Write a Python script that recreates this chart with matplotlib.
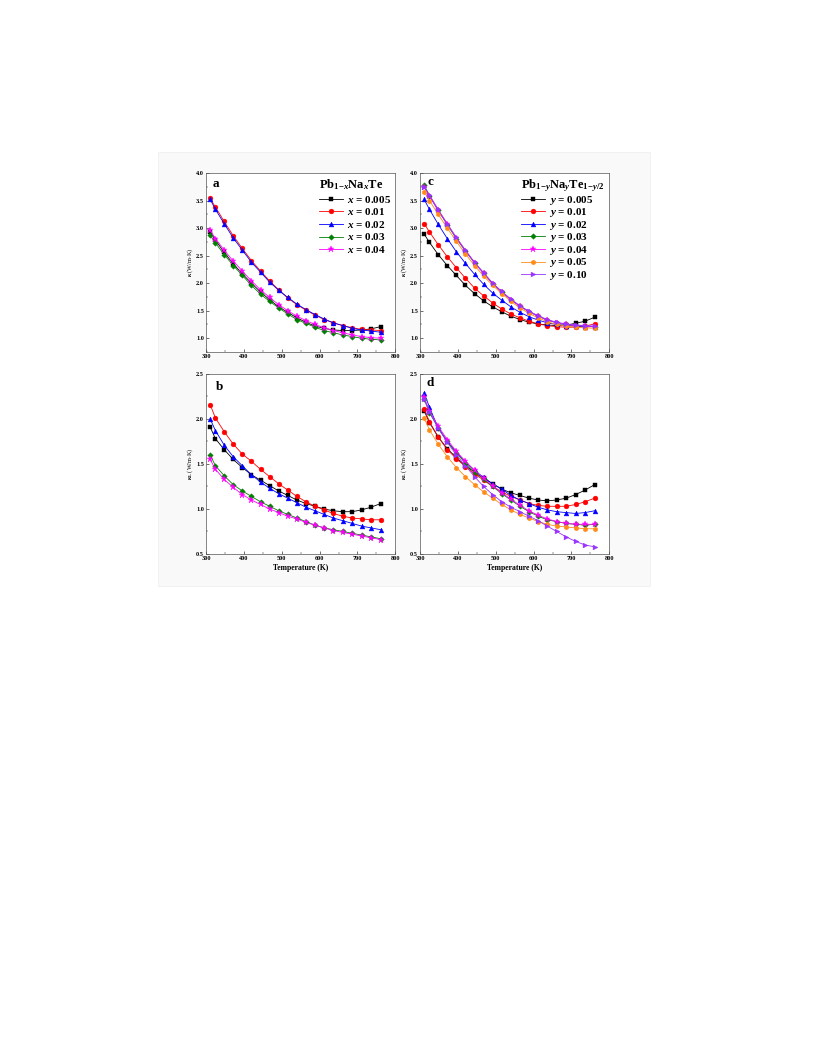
import matplotlib
matplotlib.use("Agg")
import matplotlib.pyplot as plt
from matplotlib.patches import Rectangle
from matplotlib.ticker import MultipleLocator

plt.rcParams['font.family'] = ['Liberation Serif', 'DejaVu Serif']
plt.rcParams['mathtext.fontset'] = 'custom'
plt.rcParams['mathtext.rm'] = 'Liberation Serif:bold'
plt.rcParams['mathtext.it'] = 'Liberation Serif:italic:bold'
plt.rcParams['mathtext.bf'] = 'Liberation Serif:bold'

T = [311, 325, 348, 372, 396, 420, 444, 468, 492, 516, 540, 564, 588, 612, 636, 661, 686, 711, 736, 761]

# Panel a: total thermal conductivity, Pb1-xNaxTe
x_labels = ["0.005", "0.01", "0.02", "0.03", "0.04"]
a_x0005 = [2.93, 2.78, 2.56, 2.35, 2.17, 2.00, 1.84, 1.70, 1.57, 1.47, 1.37, 1.29, 1.22, 1.18, 1.15, 1.14, 1.14, 1.15, 1.17, 1.21]
a_x001 = [3.54, 3.38, 3.12, 2.86, 2.63, 2.41, 2.22, 2.04, 1.88, 1.73, 1.61, 1.51, 1.42, 1.34, 1.28, 1.23, 1.19, 1.16, 1.15, 1.14]
a_x002 = [3.52, 3.34, 3.08, 2.82, 2.60, 2.38, 2.20, 2.02, 1.87, 1.74, 1.62, 1.52, 1.43, 1.35, 1.28, 1.23, 1.18, 1.15, 1.13, 1.11]
a_x003 = [2.87, 2.73, 2.52, 2.32, 2.14, 1.96, 1.80, 1.67, 1.55, 1.44, 1.34, 1.27, 1.20, 1.14, 1.10, 1.06, 1.03, 1.00, 0.98, 0.97]
a_x004 = [2.96, 2.81, 2.60, 2.40, 2.22, 2.04, 1.88, 1.74, 1.61, 1.50, 1.40, 1.32, 1.25, 1.19, 1.14, 1.10, 1.06, 1.03, 1.01, 1.00]

# Panel b: lattice thermal conductivity, Pb1-xNaxTe
b_x0005 = [1.91, 1.78, 1.66, 1.55, 1.46, 1.38, 1.32, 1.26, 1.20, 1.15, 1.10, 1.06, 1.03, 1.00, 0.98, 0.97, 0.97, 0.99, 1.02, 1.06]
b_x001 = [2.16, 2.01, 1.86, 1.72, 1.61, 1.53, 1.44, 1.36, 1.28, 1.21, 1.14, 1.08, 1.03, 0.99, 0.95, 0.92, 0.90, 0.89, 0.88, 0.88]
b_x002 = [2.00, 1.87, 1.71, 1.58, 1.48, 1.38, 1.30, 1.23, 1.17, 1.12, 1.07, 1.02, 0.98, 0.94, 0.90, 0.87, 0.84, 0.81, 0.79, 0.77]
b_x003 = [1.60, 1.48, 1.37, 1.27, 1.20, 1.14, 1.08, 1.03, 0.98, 0.94, 0.90, 0.86, 0.82, 0.79, 0.77, 0.75, 0.73, 0.71, 0.69, 0.67]
b_x004 = [1.55, 1.44, 1.33, 1.24, 1.16, 1.10, 1.05, 1.00, 0.96, 0.92, 0.89, 0.85, 0.82, 0.79, 0.76, 0.74, 0.72, 0.70, 0.68, 0.66]

# Panel c: total thermal conductivity, Pb1-yNayTe1-y/2
y_labels = ["0.005", "0.01", "0.02", "0.03", "0.04", "0.05", "0.10"]
c_y0005 = [2.89, 2.74, 2.52, 2.32, 2.14, 1.96, 1.81, 1.68, 1.57, 1.48, 1.40, 1.34, 1.29, 1.26, 1.24, 1.23, 1.24, 1.27, 1.31, 1.38]
c_y001 = [3.08, 2.93, 2.70, 2.48, 2.28, 2.09, 1.91, 1.77, 1.64, 1.53, 1.44, 1.37, 1.31, 1.26, 1.23, 1.21, 1.20, 1.20, 1.22, 1.26]
c_y002 = [3.52, 3.34, 3.07, 2.81, 2.57, 2.36, 2.16, 1.98, 1.82, 1.69, 1.57, 1.47, 1.39, 1.33, 1.28, 1.25, 1.23, 1.22, 1.21, 1.21]
c_y003 = [3.78, 3.59, 3.32, 3.06, 2.81, 2.58, 2.37, 2.18, 1.99, 1.84, 1.70, 1.58, 1.48, 1.40, 1.33, 1.28, 1.25, 1.23, 1.22, 1.21]
c_y004 = [3.74, 3.58, 3.32, 3.07, 2.82, 2.59, 2.37, 2.18, 1.99, 1.84, 1.70, 1.58, 1.48, 1.40, 1.33, 1.28, 1.25, 1.23, 1.22, 1.21]
c_y005 = [3.66, 3.50, 3.25, 3.00, 2.76, 2.53, 2.32, 2.13, 1.96, 1.81, 1.67, 1.55, 1.45, 1.37, 1.30, 1.25, 1.22, 1.20, 1.19, 1.18]
c_y010 = [3.75, 3.60, 3.34, 3.08, 2.83, 2.60, 2.38, 2.19, 2.00, 1.85, 1.71, 1.59, 1.49, 1.41, 1.34, 1.29, 1.26, 1.24, 1.23, 1.22]

# Panel d: lattice thermal conductivity, Pb1-yNayTe1-y/2
d_y0005 = [2.09, 1.96, 1.80, 1.67, 1.57, 1.48, 1.41, 1.34, 1.28, 1.22, 1.18, 1.15, 1.12, 1.10, 1.09, 1.10, 1.12, 1.16, 1.21, 1.27]
d_y001 = [2.11, 1.97, 1.80, 1.66, 1.56, 1.47, 1.39, 1.32, 1.25, 1.19, 1.14, 1.10, 1.06, 1.04, 1.03, 1.03, 1.03, 1.05, 1.08, 1.12]
d_y002 = [2.29, 2.13, 1.90, 1.75, 1.63, 1.52, 1.43, 1.35, 1.28, 1.22, 1.15, 1.10, 1.06, 1.02, 0.99, 0.97, 0.96, 0.95, 0.96, 0.98]
d_y003 = [2.22, 2.07, 1.90, 1.75, 1.62, 1.51, 1.41, 1.33, 1.25, 1.17, 1.10, 1.03, 0.97, 0.92, 0.88, 0.86, 0.84, 0.83, 0.82, 0.83]
d_y004 = [2.24, 2.09, 1.92, 1.77, 1.64, 1.53, 1.43, 1.34, 1.26, 1.18, 1.11, 1.04, 0.98, 0.93, 0.89, 0.86, 0.84, 0.83, 0.83, 0.83]
d_y005 = [2.01, 1.88, 1.72, 1.58, 1.46, 1.36, 1.27, 1.19, 1.12, 1.05, 0.99, 0.94, 0.90, 0.86, 0.83, 0.81, 0.80, 0.79, 0.78, 0.78]
d_y010 = [2.22, 2.08, 1.90, 1.74, 1.60, 1.48, 1.36, 1.25, 1.16, 1.08, 1.02, 0.97, 0.92, 0.87, 0.81, 0.75, 0.69, 0.64, 0.60, 0.58]

styles = [
    ('black', 's'),
    ('#ff0000', 'o'),
    ('#0000ff', '^'),
    ('#008000', 'D'),
    ('#ff00ff', '*'),
    ('#ff8c1a', 'h'),
    ('#9933ff', '>'),
]

fig = plt.figure(figsize=(8.16, 10.56), dpi=100)
bg = Rectangle((158 / 816, 1 - 586 / 1056), 492 / 816, 434 / 1056,
               transform=fig.transFigure, facecolor='#f9f9f9',
               edgecolor='#eeeeee', linewidth=0.5, zorder=-10)
fig.patches.append(bg)

W = 0.232
H = 0.1695
pos = {
    'a': [206 / 816, 1 - 352 / 1056, W, H],
    'c': [420 / 816, 1 - 352 / 1056, W, H],
    'b': [206 / 816, 1 - 554 / 1056, W, H + 0.001],
    'd': [420 / 816, 1 - 554 / 1056, W, H + 0.001],
}


def plot_panel(ax, series, labels, var, ylim, ylabel, letter, letter_xy,
               legend_title=None, legend_spacing=0.1, xlabel=False):
    for i, (vals, lab) in enumerate(zip(series, labels)):
        c, m = styles[i]
        ms = 3.5
        if m == '*':
            ms = 4.8
        if m == 'D':
            ms = 2.8
        ax.plot(T, vals, color=c, marker=m, markersize=ms, linewidth=0.6,
                markeredgewidth=0.3, label=r'$\mathit{%s}$ = %s' % (var, lab))
    ax.set_xlim(300, 800)
    ax.set_ylim(*ylim)
    ax.xaxis.set_major_locator(MultipleLocator(100))
    ax.yaxis.set_major_locator(MultipleLocator(0.5))
    ax.yaxis.set_minor_locator(MultipleLocator(0.25))
    ax.xaxis.set_minor_locator(MultipleLocator(50))
    ax.tick_params(axis='both', which='both', direction='in', labelsize=4.5, pad=1.5)
    ax.tick_params(which='major', length=2, width=0.4)
    ax.tick_params(which='minor', length=1.2, width=0.3)
    for lbl in ax.get_xticklabels() + ax.get_yticklabels():
        lbl.set_fontweight('bold')
    for s in ax.spines.values():
        s.set_linewidth(0.5)
        s.set_color('#555555')
    ax.set_ylabel(ylabel, fontsize=4.5, labelpad=0.5)
    if xlabel:
        ax.set_xlabel('Temperature (K)', fontsize=5.5, fontweight='bold', labelpad=2)
    ax.text(letter_xy[0], letter_xy[1], letter, transform=ax.transAxes,
            fontsize=9.5, fontweight='bold', va='center', ha='left')
    if legend_title:
        leg = ax.legend(loc='upper right', frameon=False, fontsize=8,
                        title=legend_title, title_fontsize=9,
                        handlelength=2.15, handletextpad=0.3, labelspacing=legend_spacing,
                        borderaxespad=0.3, borderpad=0.1)
        for t in leg.get_texts():
            t.set_fontweight('bold')
        leg.get_title().set_fontweight('bold')
        leg._legend_box.align = 'left'


kappa = r'$\kappa$ (W/m$\cdot$K)'
kappaL = r'$\kappa_{\rm L}$ (W/m$\cdot$K)'

ax_a = fig.add_axes(pos['a'])
plot_panel(ax_a, [a_x0005, a_x001, a_x002, a_x003, a_x004], x_labels, 'x',
           (0.75, 4.0), kappa, 'a', (0.035, 0.94),
           legend_title=r'Pb$_{1\mathrm{-}x}$Na$_x$Te', legend_spacing=0.14)

ax_c = fig.add_axes(pos['c'])
plot_panel(ax_c, [c_y0005, c_y001, c_y002, c_y003, c_y004, c_y005, c_y010], y_labels, 'y',
           (0.75, 4.0), kappa, 'c', (0.04, 0.95),
           legend_title=r'Pb$_{1\mathrm{-}y}$Na$_y$Te$_{1\mathrm{-}y/2}$', legend_spacing=-0.04)

ax_b = fig.add_axes(pos['b'])
plot_panel(ax_b, [b_x0005, b_x001, b_x002, b_x003, b_x004], x_labels, 'x',
           (0.5, 2.5), kappaL, 'b', (0.05, 0.925), xlabel=True)

ax_d = fig.add_axes(pos['d'])
plot_panel(ax_d, [d_y0005, d_y001, d_y002, d_y003, d_y004, d_y005, d_y010], y_labels, 'y',
           (0.5, 2.5), kappaL, 'd', (0.035, 0.95), xlabel=True)

fig.savefig('out.png', dpi=100)
